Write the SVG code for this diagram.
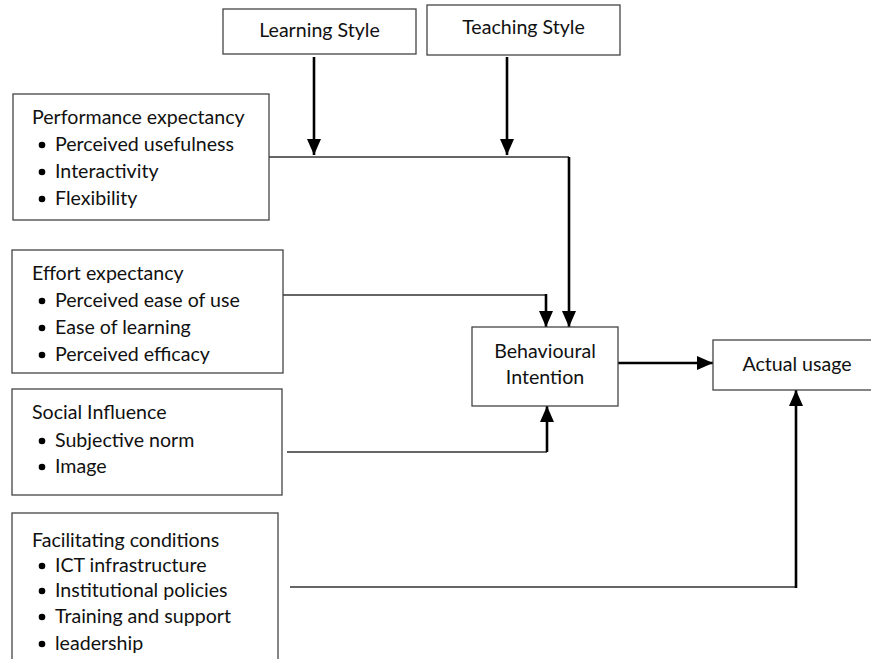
<svg xmlns="http://www.w3.org/2000/svg" width="871" height="659" viewBox="0 0 871 659">
<style>
.box{fill:#fff;stroke:#444;stroke-width:1.3}
.t{font-family:Lato,"Open Sans","Liberation Sans",sans-serif;font-size:19.6px;fill:#111}
.c{text-anchor:middle}
.thin{fill:none;stroke:#333;stroke-width:1.3}
.thick{fill:none;stroke:#000;stroke-width:2.6}
.b{fill:#000}
</style>
<defs>
<marker id="ah" viewBox="0 0 16 14" refX="16" refY="7" markerWidth="16" markerHeight="14" markerUnits="userSpaceOnUse" orient="auto">
<path d="M0,0 L16,7 L0,14 Z" fill="#000"/>
</marker>
</defs>
<g id="connectors">
<path class="thick" d="M314,57 V155" marker-end="url(#ah)"/>
<path class="thick" d="M507,57 V155" marker-end="url(#ah)"/>
<path class="thin" d="M269,157 H569"/>
<path class="thick" d="M569,157 V327" marker-end="url(#ah)"/>
<path class="thin" d="M282,295 H546"/>
<path class="thick" d="M546,294 V327" marker-end="url(#ah)"/>
<path class="thin" d="M287,452 H547"/>
<path class="thick" d="M547,452 V406" marker-end="url(#ah)"/>
<path class="thick" d="M618,363 H713" marker-end="url(#ah)"/>
<path class="thin" d="M290,587 H796"/>
<path class="thick" d="M796,588 V390" marker-end="url(#ah)"/>
</g>
<g id="learning-style">
<rect class="box" x="223" y="9" width="193" height="45"/>
<text class="t c" x="319.5" y="37">Learning Style</text>
</g>
<g id="teaching-style">
<rect class="box" x="427" y="5" width="193" height="50"/>
<text class="t c" x="523.5" y="34">Teaching Style</text>
</g>
<g id="performance-expectancy">
<rect class="box" x="13" y="94" width="256" height="126"/>
<text class="t" x="32" y="124">Performance expectancy</text>
<circle class="b" cx="42" cy="145" r="3.3"/><text class="t" x="55" y="151">Perceived usefulness</text>
<circle class="b" cx="42" cy="172" r="3.3"/><text class="t" x="55" y="178">Interactivity</text>
<circle class="b" cx="42" cy="199" r="3.3"/><text class="t" x="55" y="205">Flexibility</text>
</g>
<g id="effort-expectancy">
<rect class="box" x="12" y="250" width="271" height="123"/>
<text class="t" x="32" y="280">Effort expectancy</text>
<circle class="b" cx="42" cy="301" r="3.3"/><text class="t" x="55" y="307">Perceived ease of use</text>
<circle class="b" cx="42" cy="328" r="3.3"/><text class="t" x="55" y="334">Ease of learning</text>
<circle class="b" cx="42" cy="355" r="3.3"/><text class="t" x="55" y="361">Perceived efficacy</text>
</g>
<g id="social-influence">
<rect class="box" x="12" y="389" width="270" height="106"/>
<text class="t" x="32" y="419">Social Influence</text>
<circle class="b" cx="42" cy="441" r="3.3"/><text class="t" x="55" y="447">Subjective norm</text>
<circle class="b" cx="42" cy="467" r="3.3"/><text class="t" x="55" y="473">Image</text>
</g>
<g id="facilitating-conditions">
<rect class="box" x="12" y="513" width="266" height="160"/>
<text class="t" x="32" y="547">Facilitating conditions</text>
<circle class="b" cx="42" cy="566" r="3.3"/><text class="t" x="55" y="572">ICT infrastructure</text>
<circle class="b" cx="42" cy="591" r="3.3"/><text class="t" x="55" y="597">Institutional policies</text>
<circle class="b" cx="42" cy="617" r="3.3"/><text class="t" x="55" y="623">Training and support</text>
<circle class="b" cx="42" cy="644" r="3.3"/><text class="t" x="55" y="650">leadership</text>
</g>
<g id="behavioural-intention">
<rect class="box" x="472" y="327" width="146" height="79"/>
<text class="t c" x="545" y="358">Behavioural</text>
<text class="t c" x="545" y="384">Intention</text>
</g>
<g id="actual-usage">
<rect class="box" x="713" y="340" width="162" height="50"/>
<text class="t c" x="797" y="371">Actual usage</text>
</g>
</svg>
